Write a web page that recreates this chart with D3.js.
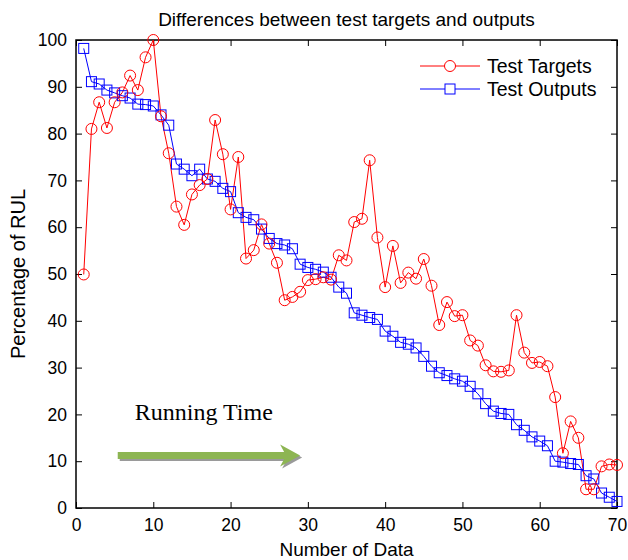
<!DOCTYPE html>
<html>
<head>
<meta charset="utf-8">
<script src="https://cdn.jsdelivr.net/npm/d3@7"></script>
<style>
  body { margin: 0; background: #fff; }
  svg { display: block; font-family: "Liberation Sans", Arial, sans-serif; }
</style>
</head>
<body>
<div id="chart"></div>
<script>
// data (index 1..70)
const targets = [49.9, 81.0, 86.7, 81.2, 86.7, 88.8, 92.4, 89.3, 96.3, 100,
  83.7, 75.8, 64.4, 60.5, 67.0, 69.0, 70.3, 82.9, 75.6, 63.8,
  75.0, 53.3, 55.1, 60.6, 56.5, 52.4, 44.4, 45.1, 46.2, 48.7,
  48.9, 49.3, 48.8, 54.0, 52.9, 61.1, 61.8, 74.3, 57.8, 47.2,
  56.0, 48.1, 50.3, 49.0, 53.2, 47.5, 39.1, 44.0, 41.0, 41.2,
  35.8, 34.7, 30.5, 29.2, 29.1, 29.4, 41.2, 33.2, 31.0, 31.2,
  30.3, 23.7, 11.7, 18.5, 15.0, 4.0, 4.0, 8.9, 9.3, 9.2];
const outputs = [98.2, 91.1, 90.6, 89.3, 88.7, 88.1, 87.6, 86.3, 86.2, 85.9,
  84.0, 81.8, 73.5, 72.4, 71.0, 72.4, 70.3, 69.8, 68.3, 67.6,
  63.1, 62.1, 61.6, 59.6, 57.6, 56.5, 56.2, 55.4, 52.1, 51.4,
  51.0, 50.4, 49.3, 47.2, 45.9, 41.7, 41.2, 40.7, 40.3, 37.8,
  36.7, 35.4, 35.0, 34.2, 32.4, 30.3, 28.9, 28.3, 27.6, 27.1,
  26.0, 24.4, 22.3, 20.7, 20.2, 20.0, 17.8, 16.6, 15.2, 14.3,
  13.3, 10.0, 9.8, 9.5, 9.3, 6.9, 6.2, 3.2, 2.3, 1.4];
const xTicks = [0, 10, 20, 30, 40, 50, 60, 70];
const yTicks = [0, 10, 20, 30, 40, 50, 60, 70, 80, 90, 100];
const seriesNames = ['Test Targets', 'Test Outputs'];

const width = 628;
const height = 560;
const margin = {top: 40, right: 11, bottom: 52, left: 76};
const w = width - margin.left - margin.right;
const h = height - margin.top - margin.bottom;

const svg = d3.select('#chart')
  .append('svg')
  .attr('width', width)
  .attr('height', height);

const g = svg.append('g')
  .attr('transform', `translate(${margin.left},${margin.top})`);

const x = d3.scaleLinear().domain([0, 70]).range([0, w]);
const y = d3.scaleLinear().domain([0, 100]).range([h, 0]);

// axes, ticks pointing inward on all four sides
function styleAxis(sel) {
  sel.select('.domain').remove();
  sel.selectAll('line').attr('stroke', '#000');
  sel.selectAll('text').attr('fill', '#000').style('font-size', '17.5px');
}
g.append('g')
  .attr('transform', `translate(0,${h})`)
  .call(d3.axisBottom(x).tickValues(xTicks).tickSizeInner(-6).tickSizeOuter(0).tickPadding(11))
  .call(styleAxis);
g.append('g')
  .call(d3.axisLeft(y).tickValues(yTicks).tickSizeInner(-6).tickSizeOuter(0).tickPadding(9))
  .call(styleAxis);
g.append('g')
  .call(d3.axisTop(x).tickValues(xTicks).tickSizeInner(-6).tickSizeOuter(0).tickFormat(''))
  .call(styleAxis);
g.append('g')
  .attr('transform', `translate(${w},0)`)
  .call(d3.axisRight(y).tickValues(yTicks).tickSizeInner(-6).tickSizeOuter(0).tickFormat(''))
  .call(styleAxis);

g.append('rect')
  .attr('width', w)
  .attr('height', h)
  .attr('fill', 'none')
  .attr('stroke', '#000')
  .attr('stroke-width', 1.5);

// annotation: running time arrow
const ann = g.append('g');
ann.append('text')
  .attr('x', x(7.6))
  .attr('y', y(18.8))
  .attr('font-family', '"Liberation Serif", "Times New Roman", serif')
  .style('font-size', '24px')
  .attr('fill', '#000')
  .text('Running Time');

function arrowPath(x0, x1, yc) {
  const p = d3.path();
  p.moveTo(x0, yc - 3.5);
  p.lineTo(x1 - 16, yc - 3.5);
  p.lineTo(x1 - 20, yc - 11);
  p.lineTo(x1, yc);
  p.lineTo(x1 - 20, yc + 11);
  p.lineTo(x1 - 16, yc + 3.5);
  p.lineTo(x0, yc + 3.5);
  p.closePath();
  return p.toString();
}
const ax0 = x(5.4), ax1 = x(29.0), ay = y(11.2);
ann.append('path')
  .attr('d', arrowPath(ax0, ax1, ay))
  .attr('transform', 'translate(2,2)')
  .attr('fill', '#9a9a9a');
ann.append('path')
  .attr('d', arrowPath(ax0, ax1, ay))
  .attr('fill', '#8db553');

// lines
const line = d3.line()
  .x((d, i) => x(i + 1))
  .y(d => y(d));

g.append('path')
  .datum(outputs)
  .attr('d', line)
  .attr('fill', 'none')
  .attr('stroke', '#0000ff')
  .attr('stroke-width', 1);

g.append('path')
  .datum(targets)
  .attr('d', line)
  .attr('fill', 'none')
  .attr('stroke', '#ff0000')
  .attr('stroke-width', 1);

// markers
g.selectAll('.sq')
  .data(outputs)
  .enter()
  .append('rect')
  .attr('class', 'sq')
  .attr('x', (d, i) => x(i + 1) - 5)
  .attr('y', d => y(d) - 5)
  .attr('width', 10)
  .attr('height', 10)
  .attr('fill', 'none')
  .attr('stroke', '#0000ff')
  .attr('stroke-width', 1);

g.selectAll('.circ')
  .data(targets)
  .enter()
  .append('circle')
  .attr('class', 'circ')
  .attr('cx', (d, i) => x(i + 1))
  .attr('cy', d => y(d))
  .attr('r', 5.5)
  .attr('fill', 'none')
  .attr('stroke', '#ff0000')
  .attr('stroke-width', 1);

// legend
const legend = svg.append('g').attr('transform', 'translate(420,66)');
legend.append('line').attr('x1', 0).attr('x2', 60).attr('y1', 0).attr('y2', 0).attr('stroke', '#ff0000');
legend.append('circle').attr('cx', 30).attr('cy', 0).attr('r', 5.5).attr('fill', '#fff').attr('stroke', '#ff0000');
legend.append('line').attr('x1', 0).attr('x2', 60).attr('y1', 23).attr('y2', 23).attr('stroke', '#0000ff');
legend.append('rect').attr('x', 25).attr('y', 18).attr('width', 10).attr('height', 10).attr('fill', '#fff').attr('stroke', '#0000ff');
legend.selectAll('.lt')
  .data(seriesNames)
  .enter()
  .append('text')
  .attr('class', 'lt')
  .attr('x', 67)
  .attr('y', (d, i) => i * 23 + 7)
  .style('font-size', '19.5px')
  .attr('fill', '#000')
  .text(d => d);

// title and axis labels
svg.append('text')
  .attr('x', margin.left + w / 2)
  .attr('y', 26)
  .attr('text-anchor', 'middle')
  .style('font-size', '19px')
  .text('Differences between test targets and outputs');

svg.append('text')
  .attr('x', margin.left + w / 2)
  .attr('y', 556)
  .attr('text-anchor', 'middle')
  .style('font-size', '19px')
  .text('Number of Data');

svg.append('text')
  .attr('transform', `translate(25,${margin.top + h / 2}) rotate(-90)`)
  .attr('text-anchor', 'middle')
  .style('font-size', '20px')
  .text('Percentage of RUL');
</script>
</body>
</html>
